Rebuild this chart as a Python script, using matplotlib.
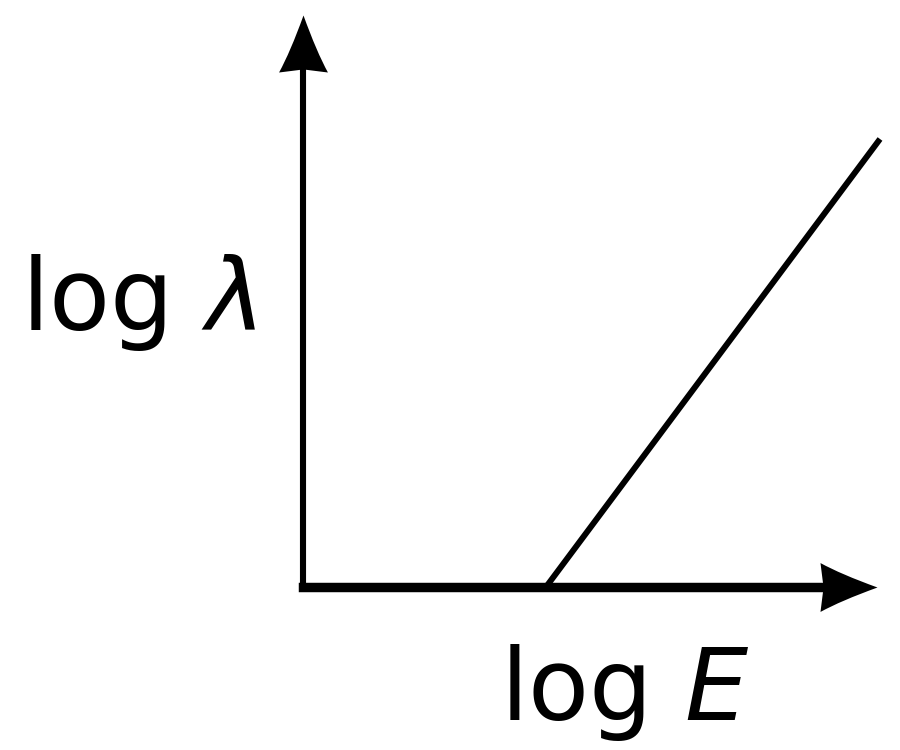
import matplotlib
matplotlib.use("Agg")
import matplotlib.pyplot as plt
from matplotlib.path import Path
from matplotlib.markers import MarkerStyle
from matplotlib.transforms import Affine2D

# 坐标轴长度（原点在 (0, 0)）
y_axis_end = 5.72
x_axis_end = 5.74

# 直线 log λ - log E
line_x = [2.43, 5.77]
line_y = [0.0, 4.48]

# 标签
ylabel_text = r"log $\lambda$"
xlabel_text = r"log $\mathit{E}$"

plt.rcParams['font.family'] = ['DejaVu Sans']
plt.rcParams['mathtext.fontset'] = 'dejavusans'

fig = plt.figure(figsize=(9, 7.5), dpi=100)
ax = fig.add_axes([0, 0, 1, 1])
ax.set_xlim(-3.03, 5.97)
ax.set_ylim(-1.63, 5.87)
ax.axis("off")

# 箭头形状（尖端在原点，朝上）
verts = [(0, 0), (13, -36), (24, -56), (0, -53), (-24, -56), (-13, -36), (0, 0), (0, 0)]
codes = [Path.MOVETO, Path.CURVE3, Path.CURVE3, Path.LINETO, Path.LINETO,
         Path.CURVE3, Path.CURVE3, Path.CLOSEPOLY]
head = Path(verts, codes)
head_up = MarkerStyle(head)
head_right = MarkerStyle(head, transform=Affine2D().rotate_deg(-90))
head_ms = 114 * 72 / 100

# 坐标轴
ax.plot([0, 0], [0, y_axis_end - 0.3], color="black", lw=4.4, solid_capstyle="projecting")
ax.plot([0, x_axis_end - 0.3], [0, 0], color="black", lw=6.8, solid_capstyle="projecting")
ax.plot([0], [y_axis_end], marker=head_up, ms=head_ms, color="black", mew=0)
ax.plot([x_axis_end], [0], marker=head_right, ms=head_ms, color="black", mew=0)

# 直线
ax.plot(line_x, line_y, color="black", lw=4.3, solid_capstyle="butt")

# 文字
ax.text(-1.64, 2.57, ylabel_text, fontsize=72, ha="center", va="baseline")
ax.text(3.22, -1.33, xlabel_text, fontsize=72, ha="center", va="baseline")

fig.savefig("out.png", dpi=100)
